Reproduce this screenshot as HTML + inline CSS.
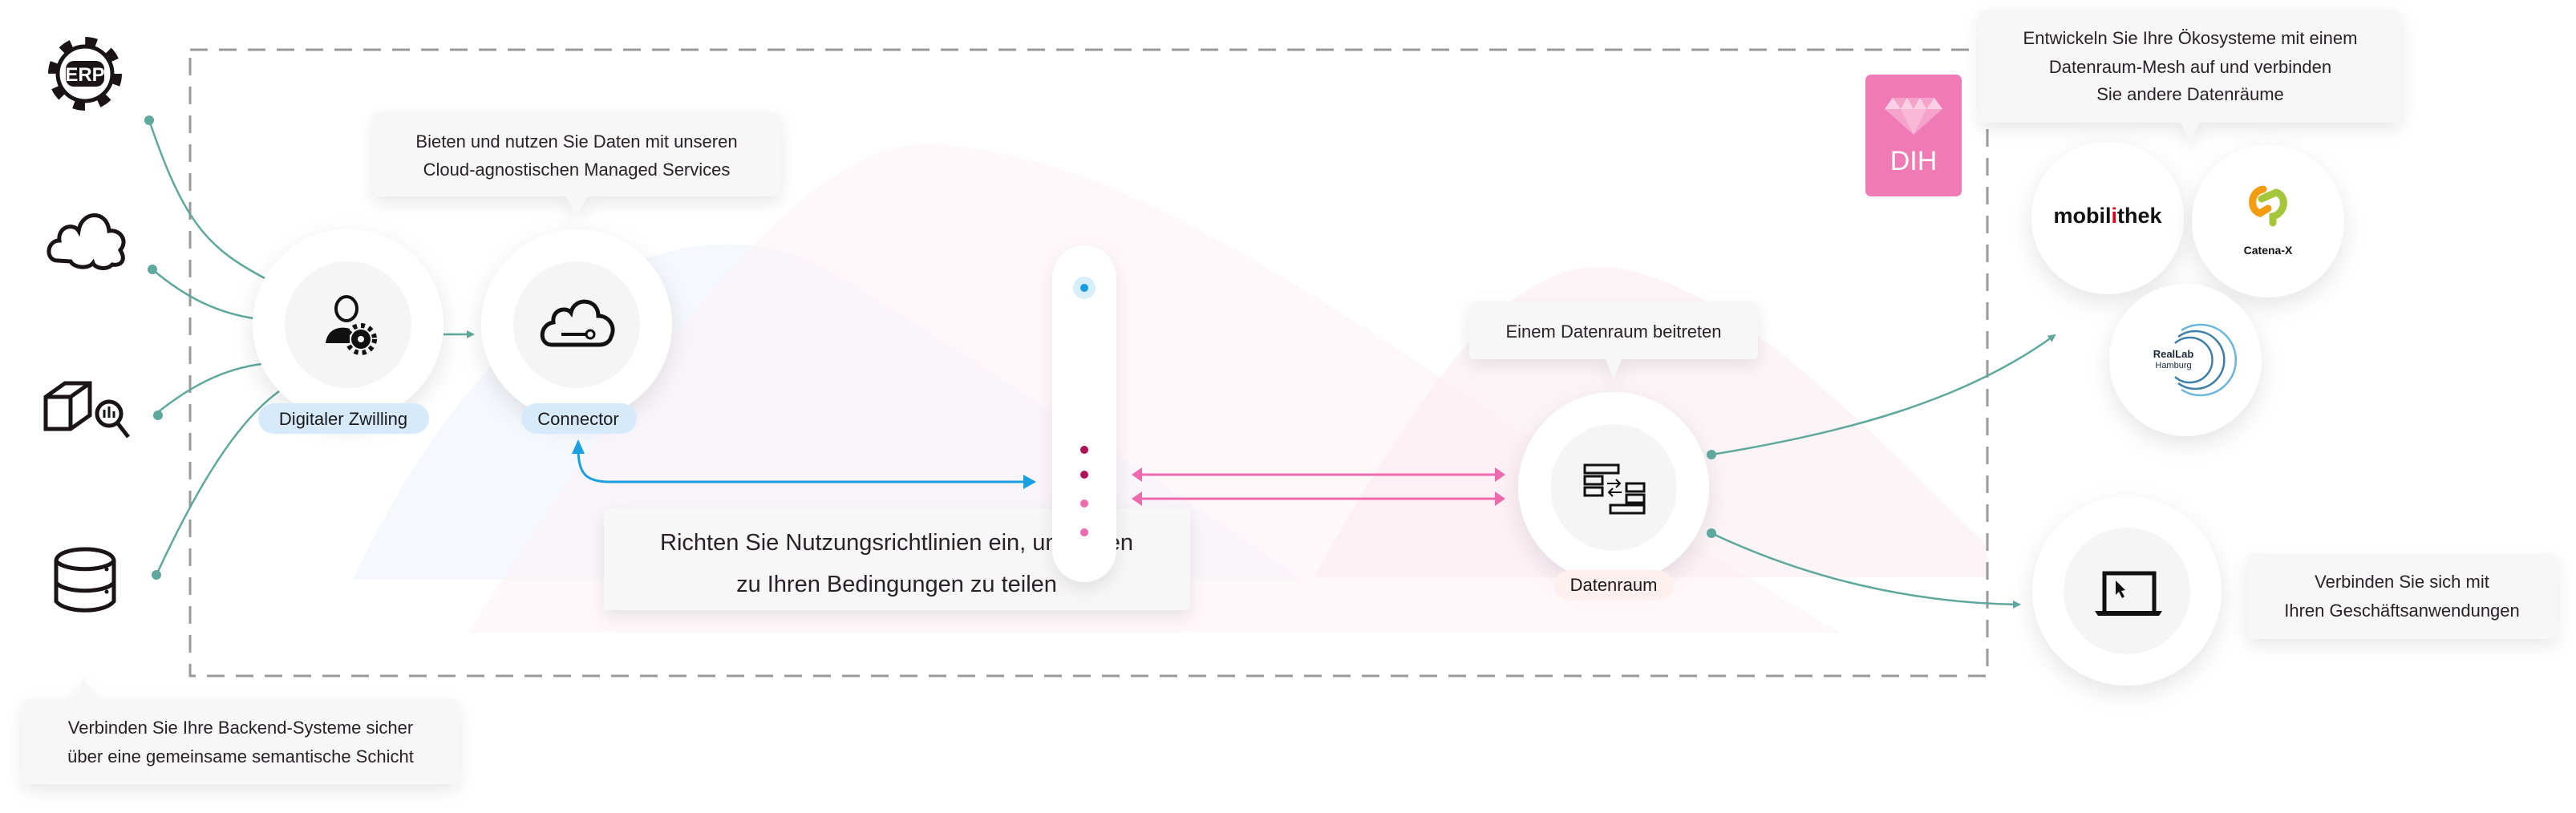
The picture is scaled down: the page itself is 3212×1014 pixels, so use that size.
<!DOCTYPE html>
<html><head><meta charset="utf-8"><style>
html,body{margin:0;padding:0;background:#fff;}
svg{display:block;font-family:"Liberation Sans",sans-serif;}
</style></head><body>
<svg width="3212" height="1014" viewBox="0 0 3212 1014" xmlns="http://www.w3.org/2000/svg">
<defs>
<filter id="sh" x="-30%" y="-30%" width="160%" height="170%"><feDropShadow dx="0" dy="10" stdDeviation="14" flood-color="#000" flood-opacity="0.10"/></filter>
<filter id="sh2" x="-20%" y="-30%" width="140%" height="180%"><feDropShadow dx="0" dy="8" stdDeviation="10" flood-color="#000" flood-opacity="0.09"/></filter>
<marker id="ag" markerWidth="10" markerHeight="10" refX="8" refY="5" orient="auto" markerUnits="userSpaceOnUse"><path d="M0,0 L10,5 L0,10 z" fill="#5fa89e"/></marker>
</defs>

<!-- background mountains -->
<path d="M440,723 C640,300 900,250 1049,346 C1200,440 1450,600 1623,723 Z" fill="#eef4fb" opacity="0.6"/>
<path d="M584,789 C800,450 1000,180 1150,180 C1450,180 1800,500 2294,789 Z" fill="#fdf2f7" opacity="0.55"/>
<path d="M1638,720 C1780,470 1880,333 1993,333 C2150,333 2350,560 2478,680 L2478,720 Z" fill="#fcecf3" opacity="0.6"/>

<!-- dashed box -->
<rect x="237" y="62" width="2241" height="781" fill="none" stroke="#9a9a9a" stroke-width="3" stroke-dasharray="22,14"/>

<!-- left teal lines -->
<g stroke="#5fa89e" stroke-width="2.5" fill="none">
<path d="M186,150 C230,280 260,310 332,348"/>
<path d="M190,336 C230,370 270,390 316,397"/>
<path d="M197,514 C240,480 280,460 326,454"/>
<path d="M195,717 C240,620 290,530 348,488"/>
</g>
<g fill="#5fa89e">
<circle cx="186" cy="150" r="6"/><circle cx="190" cy="336" r="6"/><circle cx="197" cy="518" r="6"/><circle cx="195" cy="717" r="6"/>
</g>

<!-- left icons -->
<g fill="none" stroke="#1a1416" stroke-width="5">
<!-- ERP gear -->
<circle cx="106" cy="92" r="40" stroke-dasharray="14,17.4" stroke-width="12"/>
<circle cx="106" cy="92" r="34" fill="#fff" stroke-width="5"/>
<!-- cloud -->
<path d="M72,325 C56,325 58,300 74,300 C72,282 92,278 98,288 C102,262 134,262 136,288 C150,286 160,300 150,312 C158,325 150,332 140,330 C132,338 118,334 116,328 C110,336 92,334 88,326 Z" stroke-width="5"/>
<!-- box -->
<path d="M57,495 L81,478 L112,478 L112,518 L88,535 L57,535 Z M57,495 L88,495 L88,535 M88,495 L112,478"/>
<circle cx="136" cy="516" r="15" fill="#fff"/>
<path d="M146,527 L160,545"/>
<!-- db -->
<path d="M70,700 C70,680 142,680 142,700 L142,750 C130,765 82,765 70,750 Z M70,700 C82,713 130,713 142,700 M70,727 C82,740 130,740 142,727"/>
</g>
<rect x="82" y="76" width="48" height="32" rx="10" fill="#1a1416"/>
<text x="106" y="101" font-size="24" font-weight="bold" fill="#fff" text-anchor="middle">ERP</text>
<path d="M130,511 v10 M136,507 v14 M142,513 v8" stroke="#1a1416" stroke-width="3"/>
<circle cx="133" cy="710" r="2.5" fill="#1a1416"/><circle cx="133" cy="738" r="2.5" fill="#1a1416"/>

<!-- bottom-left tooltip -->
<g filter="url(#sh2)">
<rect x="28" y="872" width="544" height="106" rx="8" fill="#f7f7f7"/>
<path d="M92,873 L105,845 L118,873 z" fill="#f7f7f7"/>
</g>
<text font-size="22" fill="#2a2226" text-anchor="middle"><tspan x="300" y="915">Verbinden Sie Ihre Backend-Systeme sicher</tspan><tspan x="300" y="951">über eine gemeinsame semantische Schicht</tspan></text>

<!-- tooltip 1 -->
<g filter="url(#sh2)">
<rect x="465" y="140" width="508" height="105" rx="8" fill="#f7f7f7"/>
<path d="M705,244 L719,268 L733,244 z" fill="#f7f7f7"/>
</g>
<text font-size="22" fill="#2a2226" text-anchor="middle"><tspan x="719" y="184">Bieten und nutzen Sie Daten mit unseren</tspan><tspan x="719" y="219">Cloud-agnostischen Managed Services</tspan></text>

<!-- twin -> connector arrow -->
<path d="M553,417 L590,417" stroke="#5fa89e" stroke-width="2.5" marker-end="url(#ag)"/>

<!-- Digital twin circle -->
<circle cx="434" cy="405" r="119" fill="#fff" filter="url(#sh)"/>
<circle cx="434" cy="405" r="79" fill="#f5f5f5"/>
<g fill="#111">
<ellipse cx="432" cy="385" rx="13" ry="15" fill="none" stroke="#111" stroke-width="4"/>
<path d="M406,428 C408,410 424,406 436,410 L436,428 Z"/>
<circle cx="450" cy="423" r="12"/>
<circle cx="450" cy="423" r="17" fill="none" stroke="#111" stroke-width="6" stroke-dasharray="5,5"/>
<circle cx="450" cy="423" r="4" fill="#f5f5f5"/>
</g>
<rect x="322" y="503" width="213" height="38" rx="19" fill="#d6eafb"/>
<text x="428" y="530" font-size="22" fill="#1a1a1a" text-anchor="middle">Digitaler Zwilling</text>

<!-- Connector circle -->
<circle cx="719" cy="405" r="119" fill="#fff" filter="url(#sh)"/>
<circle cx="719" cy="405" r="79" fill="#f5f5f5"/>
<path d="M688,430 C672,430 672,405 690,402 C688,386 706,382 712,390 C716,370 746,372 746,394 C760,394 768,408 762,420 C760,428 752,430 748,430 Z" fill="none" stroke="#111" stroke-width="5"/>
<path d="M700,417 L732,417" stroke="#111" stroke-width="4"/>
<circle cx="736" cy="417" r="5" fill="#f5f5f5" stroke="#111" stroke-width="3"/>
<rect x="650" y="503" width="144" height="38" rx="19" fill="#d6eafb"/>
<text x="721" y="530" font-size="22" fill="#1a1a1a" text-anchor="middle">Connector</text>

<!-- blue arrow -->
<path d="M721,560 C721,590 730,601 760,601 L1280,601" stroke="#1a9fe0" stroke-width="3" fill="none"/>
<path d="M713,566 L721,548 L729,566 z" fill="#1a9fe0"/>
<path d="M1276,592 L1292,601 L1276,610 z" fill="#1a9fe0"/>

<!-- text box Richten -->
<g filter="url(#sh2)"><rect x="753" y="634" width="731" height="127" rx="6" fill="#f7f7f7"/></g>
<text font-size="29" fill="#2a2226" text-anchor="middle"><tspan x="1118" y="686">Richten Sie Nutzungsrichtlinien ein, um Daten</tspan><tspan x="1118" y="738">zu Ihren Bedingungen zu teilen</tspan></text>

<!-- vertical bar -->
<rect x="1312" y="306" width="80" height="420" rx="40" fill="#fff" filter="url(#sh2)"/>
<circle cx="1352" cy="359" r="14" fill="#d8eff9"/>
<circle cx="1352" cy="359" r="5" fill="#1a9fe0"/>
<circle cx="1352" cy="561" r="5" fill="#b0125a"/>
<circle cx="1352" cy="592" r="5" fill="#b0125a"/>
<circle cx="1352" cy="628" r="5" fill="#ee6aae"/>
<circle cx="1352" cy="664" r="5" fill="#ee6aae"/>

<!-- pink double arrows -->
<g stroke="#ee6aae" stroke-width="3">
<path d="M1420,592 L1868,592"/><path d="M1420,622 L1868,622"/>
</g>
<g fill="#ee6aae">
<path d="M1411,592 L1424,583 L1424,601 z"/><path d="M1877,592 L1864,583 L1864,601 z"/>
<path d="M1411,622 L1424,613 L1424,631 z"/><path d="M1877,622 L1864,613 L1864,631 z"/>
</g>

<!-- Datenraum tooltip -->
<g filter="url(#sh2)">
<rect x="1832" y="377" width="360" height="71" rx="6" fill="#f7f7f7"/>
<path d="M2002,447 L2012,474 L2022,447 z" fill="#f7f7f7"/>
</g>
<text x="2012" y="421" font-size="22" fill="#2a2226" text-anchor="middle">Einem Datenraum beitreten</text>

<!-- green right lines -->
<g stroke="#5fa89e" stroke-width="2.5" fill="none">
<path d="M2134,567 C2300,540 2450,500 2562,418" marker-end="url(#ag)"/>
<path d="M2134,665 C2250,720 2380,752 2518,754" marker-end="url(#ag)"/>
</g>

<!-- Datenraum circle -->
<circle cx="2012" cy="608" r="119" fill="#fff" filter="url(#sh)"/>
<circle cx="2012" cy="608" r="79" fill="#f5f5f5"/>
<g fill="none" stroke="#111" stroke-width="3">
<rect x="1976" y="580" width="42" height="10"/><rect x="1976" y="594" width="22" height="10"/><rect x="1976" y="608" width="22" height="10"/>
<rect x="2028" y="603" width="22" height="10"/><rect x="2028" y="617" width="22" height="10"/><rect x="2008" y="630" width="42" height="10"/>
<path d="M2004,603 L2020,603 M2015,598 L2020,603 L2015,608 M2022,614 L2006,614 M2011,609 L2006,614 L2011,619" stroke-width="2"/>
</g>
<circle cx="2134" cy="567" r="6" fill="#5fa89e"/>
<circle cx="2134" cy="665" r="6" fill="#5fa89e"/>
<rect x="1938" y="711" width="148" height="38" rx="19" fill="#fdf0ee"/>
<text x="2012" y="737" font-size="22" fill="#1a1a1a" text-anchor="middle">Datenraum</text>

<!-- DIH -->
<rect x="2326" y="93" width="120" height="152" rx="7" fill="#f07ab5"/>
<path d="M2350,136 L2360,122 L2412,122 L2422,136 L2386,168 Z" fill="#f5a3cb"/>
<path d="M2350,136 L2360,122 L2370,136 L2378,122 L2386,136 L2394,122 L2402,136 L2412,122 L2422,136 Z" fill="#fbd0e4"/>
<path d="M2370,136 L2386,168 L2402,136" fill="#f8b8d6"/>
<text x="2386" y="212" font-size="34" fill="#fff" text-anchor="middle">DIH</text>

<!-- tooltip 3 -->
<g filter="url(#sh2)">
<rect x="2468" y="12" width="526" height="141" rx="8" fill="#f7f7f7"/>
<path d="M2719,152 L2731,178 L2743,152 z" fill="#f7f7f7"/>
</g>
<text font-size="22" fill="#2a2226" text-anchor="middle"><tspan x="2731" y="55">Entwickeln Sie Ihre Ökosysteme mit einem</tspan><tspan x="2731" y="91">Datenraum-Mesh auf und verbinden</tspan><tspan x="2731" y="125">Sie andere Datenräume</tspan></text>

<!-- logos circles -->
<circle cx="2628" cy="272" r="95" fill="#fff" filter="url(#sh)"/>
<circle cx="2828" cy="276" r="95" fill="#fff" filter="url(#sh)"/>
<circle cx="2725" cy="449" r="95" fill="#fff" filter="url(#sh)"/>
<text x="2628" y="278" font-size="27" font-weight="bold" fill="#111" text-anchor="middle">mobil<tspan fill="#e2001a">i</tspan>thek</text>
<g fill="none" stroke-width="9" stroke-linecap="round">
<path d="M2822,236 C2806,238 2804,262 2818,266 L2828,260" stroke="#f39c12"/>
<path d="M2820,248 L2838,240 C2852,244 2850,266 2834,270 L2834,278" stroke="#a5c63b"/>
</g>
<text x="2828" y="317" font-size="14" font-weight="bold" fill="#111" text-anchor="middle">Catena-X</text>
<g fill="none" stroke="#3d7fa6" stroke-width="2.5">
<path d="M2712,428 A28,28 0 1,1 2712,470"/><path d="M2716,420 A36,36 0 1,1 2716,478"/><path d="M2720,412 A44,44 0 1,1 2720,486" stroke="#6bb6d9"/>
</g>
<text x="2710" y="446" font-size="13" font-weight="bold" fill="#1a2a3a" text-anchor="middle">RealLab</text>
<text x="2710" y="459" font-size="11" fill="#1a2a3a" text-anchor="middle">Hamburg</text>

<!-- laptop circle -->
<circle cx="2652" cy="737" r="118" fill="#fff" filter="url(#sh)"/>
<circle cx="2652" cy="737" r="79" fill="#f5f5f5"/>
<path d="M2624,762 L2624,715 L2686,715 L2686,762" fill="none" stroke="#111" stroke-width="5"/>
<path d="M2612,762 L2696,762 L2692,768 L2616,768 Z" fill="#111"/>
<path d="M2638,724 L2638,742 L2642,738 L2646,746 L2649,744 L2645,737 L2650,736 Z" fill="#111"/>

<!-- tooltip 4 -->
<g filter="url(#sh2)"><rect x="2802" y="691" width="386" height="106" rx="8" fill="#f7f7f7"/></g>
<text font-size="22" fill="#2a2226" text-anchor="middle"><tspan x="2995" y="733">Verbinden Sie sich mit</tspan><tspan x="2995" y="769">Ihren Geschäftsanwendungen</tspan></text>
</svg>
</body></html>
